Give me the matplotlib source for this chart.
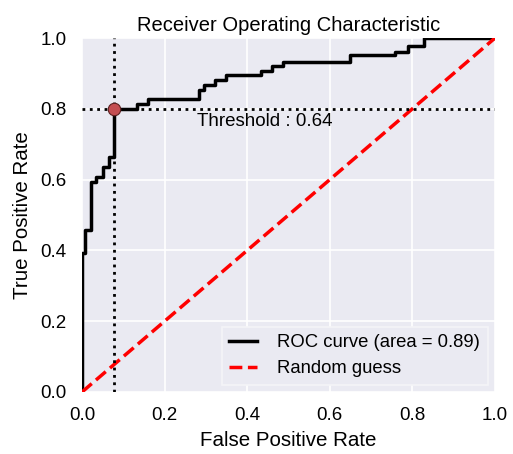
import matplotlib
matplotlib.use("Agg")
import matplotlib.pyplot as plt
import numpy as np

# ROC curve (step points)
fpr = [0.0, 0.0, 0.008, 0.008, 0.023, 0.023, 0.035, 0.035, 0.051, 0.051,
       0.065, 0.065, 0.0775, 0.0775, 0.134, 0.134, 0.16, 0.16, 0.2825, 0.2825,
       0.295, 0.295, 0.323, 0.323, 0.349, 0.349, 0.433, 0.433, 0.46, 0.46,
       0.486, 0.486, 0.65, 0.65, 0.758, 0.758, 0.789, 0.789, 0.828, 0.828, 1.0]
tpr = [0.0, 0.393, 0.393, 0.458, 0.458, 0.594, 0.594, 0.608, 0.608, 0.636,
       0.636, 0.663, 0.663, 0.80, 0.80, 0.8136, 0.8136, 0.827, 0.827, 0.853,
       0.853, 0.867, 0.867, 0.881, 0.881, 0.895, 0.895, 0.908, 0.908, 0.921,
       0.921, 0.933, 0.933, 0.952, 0.952, 0.961, 0.961, 0.977, 0.977, 1.0, 1.0]
roc_auc = 0.89
thr_fpr = 0.0775
thr_tpr = 0.80
threshold = 0.64
xticks = [0.0, 0.2, 0.4, 0.6, 0.8, 1.0]
yticks = [0.0, 0.2, 0.4, 0.6, 0.8, 1.0]

plt.rcParams['font.family'] = ['Liberation Sans', 'DejaVu Sans']

fig = plt.figure(figsize=(5.13, 4.54), dpi=100)
ax = fig.add_axes([82/513, 1-392/454, (495-82)/513, (392-38)/454])
ax.set_facecolor('#EAEAF2')
for s in ax.spines.values():
    s.set_visible(False)
ax.grid(True, color='white', linewidth=1.2)
ax.set_axisbelow(True)

ax.plot(fpr, tpr, color='black', lw=2.5, label='ROC curve (area = %0.2f)' % roc_auc)
ax.plot([0, 1], [0, 1], color='red', ls='--', lw=2.5, label='Random guess')
ax.axvline(thr_fpr, color='black', ls=':', lw=2)
ax.axhline(thr_tpr, color='black', ls=':', lw=2)
ax.plot([thr_fpr], [thr_tpr], 'o', color='#C44E52', markeredgecolor='#5a2020',
        markeredgewidth=0.8, markersize=9, zorder=5)
ax.text(0.278, 0.788, 'Threshold : %0.2f' % threshold, va='top', ha='left', fontsize=13.5)

ax.set_xlim(0, 1)
ax.set_ylim(0, 1)
ax.set_xticks(xticks)
ax.set_yticks(yticks)
ax.set_xticklabels(['%0.1f' % t for t in xticks])
ax.set_yticklabels(['%0.1f' % t for t in yticks])
ax.tick_params(length=0, pad=11, labelsize=13.5)
ax.set_xlabel('False Positive Rate', fontsize=14.8, labelpad=5)
ax.set_ylabel('True Positive Rate', fontsize=14.8, labelpad=6)
ax.set_title('Receiver Operating Characteristic', fontsize=14.5, pad=5)
leg = ax.legend(loc='lower right', fontsize=13.3, frameon=True, fancybox=False,
                facecolor='#EAEAF2', edgecolor='#f4f4f8', framealpha=1,
                borderaxespad=0.4, handlelength=1.5, handletextpad=1.1)
leg.get_frame().set_linewidth(1.2)

fig.savefig('out.png', dpi=100)
